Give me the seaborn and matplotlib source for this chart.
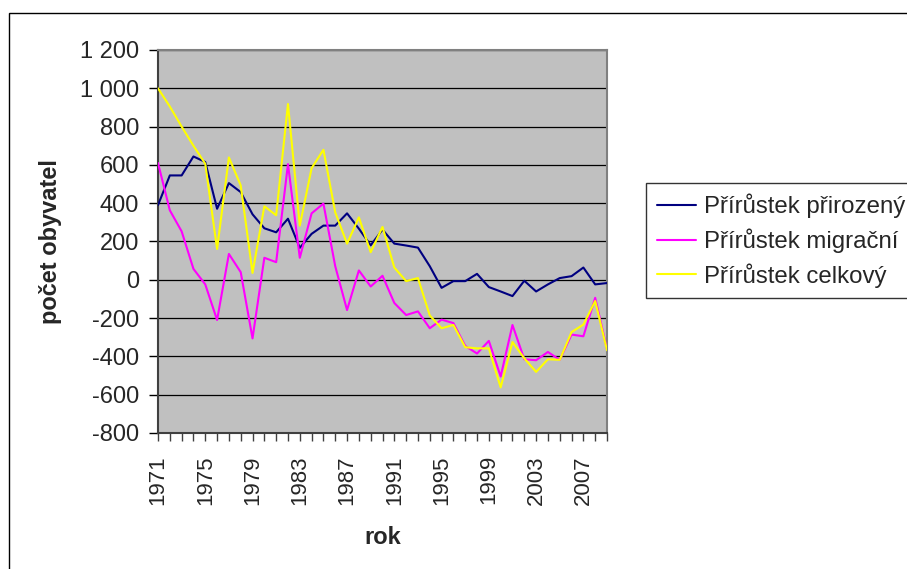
import pandas as pd
import numpy as np
import matplotlib.pyplot as plt
import seaborn as sns
from matplotlib.patches import Rectangle

# Data (1971 - 2009)
years = list(range(1971, 2010))
prirozeny = [390, 545, 545, 644, 615, 371, 505, 458, 342, 269,
             248, 319, 167, 240, 283, 283, 347, 267, 180, 262,
             189, 179, 168, 71, -42, -7, -7, 31, -38, -61,
             -85, -5, -61, -24, 9, 19, 64, -24, -17]
migracni = [610, 363, 253, 57, -24, -210, 135, 40, -306, 115,
            92, 604, 115, 347, 398, 71, -158, 49, -35, 21,
            -121, -184, -165, -253, -208, -226, -345, -385, -319, -505,
            -236, -415, -420, -377, -418, -286, -295, -94, -363]
celkovy = [1000, 905, 800, 700, 606, 161, 639, 493, 36, 384,
           337, 918, 283, 583, 679, 352, 189, 326, 144, 276,
           64, -7, 9, -186, -253, -236, -352, -358, -358, -562,
           -325, -410, -481, -415, -418, -273, -234, -111, -368]
series_names = ['Přírůstek přirozený', 'Přírůstek migrační', 'Přírůstek celkový']
colors = ['#000080', '#FF00FF', '#FFFF00']
y_ticks = [-800, -600, -400, -200, 0, 200, 400, 600, 800, 1000, 1200]
y_labels = ['-800', '-600', '-400', '-200', '0', '200', '400', '600', '800', '1 000', '1 200']

df = pd.DataFrame({'rok': years,
                   series_names[0]: prirozeny,
                   series_names[1]: migracni,
                   series_names[2]: celkovy})
df_long = df.melt(id_vars='rok', var_name='serie', value_name='pocet')

sns.set_style('white')
plt.rcParams['font.family'] = ['Liberation Sans', 'DejaVu Sans']

fig = plt.figure(figsize=(9.07, 5.69), dpi=100)
ax = fig.add_axes([158 / 907, 1 - 433 / 569, (607 - 158) / 907, (433 - 50) / 569])
ax.set_facecolor('#C0C0C0')

sns.lineplot(data=df_long, x='rok', y='pocet', hue='serie', hue_order=series_names,
             palette=colors, linewidth=1.5, ax=ax, zorder=3)

# axes limits and ticks
ax.set_xlim(1971, 2009)
ax.set_ylim(-800, 1200)
ax.set_yticks(y_ticks)
ax.set_yticklabels(y_labels, fontsize=17)
ax.set_xticks(years)
ax.set_xticklabels([str(y) if (y - 1971) % 4 == 0 else '' for y in years],
                   rotation=90, fontsize=16)
ax.tick_params(axis='y', direction='out', length=6.5, width=1, color='black', pad=7, left=True)
ax.tick_params(axis='x', direction='out', length=6, width=1, color='#404040', pad=10, bottom=True)
ax.grid(axis='y', color='black', linewidth=0.9, zorder=1)
ax.set_axisbelow(True)

for side in ['top', 'right']:
    ax.spines[side].set_color('#808080')
    ax.spines[side].set_linewidth(1.5)
for side in ['left', 'bottom']:
    ax.spines[side].set_color('#404040')
    ax.spines[side].set_linewidth(1.5)

ax.set_xlabel('rok', fontsize=17, fontweight='bold', labelpad=15)
ax.set_ylabel('počet obyvatel', fontsize=17, fontweight='bold', labelpad=13)

# legend at the right, its frame runs past the figure edge like in the original
leg = ax.legend(loc='upper left', bbox_to_anchor=(646 / 907, 1 - 183 / 569),
                bbox_transform=fig.transFigure, fontsize=17.3, frameon=True,
                fancybox=False, shadow=False, handlelength=1.65, handletextpad=0.33,
                labelspacing=0.42, borderpad=0.45, borderaxespad=0)
leg.get_frame().set_edgecolor('black')
leg.get_frame().set_linewidth(1)
for line in leg.get_lines():
    line.set_linewidth(1.5)

# outer chart border
fig.add_artist(Rectangle((9 / 907, -0.1), 1.2, 1.1 - 13 / 569, transform=fig.transFigure,
                         fill=False, edgecolor='black', linewidth=1))

plt.savefig('out.png', dpi=100)
